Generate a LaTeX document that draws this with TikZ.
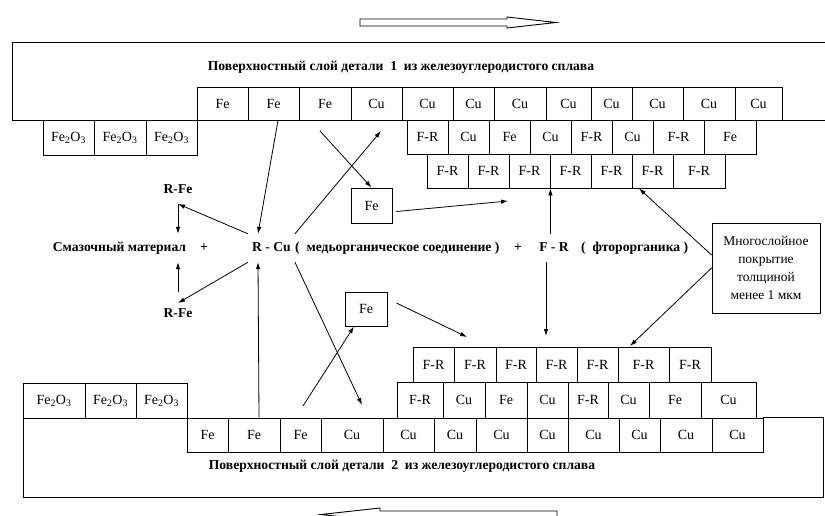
\documentclass[tikz,border=0pt]{standalone}
\usepackage{fontspec}
\setmainfont{Liberation Serif}
\usetikzlibrary{arrows.meta}
\newcommand\mycell[6]{\node[cell, minimum width={(#3-#2)*1pt}, minimum height={(#5-#4)*1pt}] (#1) at ({(#2+#3)/2},{(#4+#5)/2}) {#6};}
\begin{document}
\begin{tikzpicture}[x=1pt,y=-1pt,
  cell/.style={draw, line width=0.9pt, inner sep=0pt, font=\fontsize{14}{16}\selectfont},
  slab/.style={draw, line width=0.9pt},
  bold/.style={inner xsep=1pt, inner ysep=2pt, text height=9.5pt, text depth=3pt, font=\fontsize{13.6}{16}\selectfont\bfseries},
  hub/.style={bold, inner xsep=4pt, inner ysep=7.75pt},
  box/.style={draw, line width=0.9pt, inner sep=0pt, font=\fontsize{14}{16}\selectfont},
  arr/.style={line width=0.8pt, -{Latex[length=7pt,width=4.5pt]}},
  hollow/.style={draw, line width=0.9pt, fill=white}
]
\useasboundingbox (0,0) rectangle (825,515);
\fill[white] (0,0) rectangle (825,515);

% ---- direction arrows
\draw[hollow] (360,19) -- (507,19) -- (507,17) -- (556,22.5) -- (507,28) -- (507,26) -- (360,26) -- cycle;
\begin{scope}
\clip (0,0) rectangle (825,515);
\draw[hollow] (557,511) -- (380,511) -- (380,508) -- (321,514.5) -- (380,521) -- (380,518) -- (557,518) -- cycle;
\end{scope}

% ---- upper slab
\draw[slab] (825,42) -- (12,42) -- (12,120) -- (197,120);
\draw[slab] (782,120) -- (825,120);
\node[bold] (t1) at (401,67) {Поверхностный слой детали \ 1 \ из железоуглеродистого сплава};

\mycell{a1}{197}{248}{87}{120}{Fe}
\mycell{a2}{248}{299}{87}{120}{Fe}
\mycell{a3}{299}{351}{87}{120}{Fe}
\mycell{a4}{351}{402}{87}{120}{Cu}
\mycell{a5}{402}{453}{87}{120}{Cu}
\mycell{a6}{453}{494}{87}{120}{Cu}
\mycell{a7}{494}{546}{87}{120}{Cu}
\mycell{a8}{546}{591}{87}{120}{Cu}
\mycell{a9}{591}{632}{87}{120}{Cu}
\mycell{a10}{632}{683}{87}{120}{Cu}
\mycell{a11}{683}{735}{87}{120}{Cu}
\mycell{a12}{735}{782}{87}{120}{Cu}

\mycell{o1}{43}{94}{120}{155}{Fe\textsubscript{2}O\textsubscript{3}}
\mycell{o2}{94}{146}{120}{155}{Fe\textsubscript{2}O\textsubscript{3}}
\mycell{o3}{146}{197}{120}{155}{Fe\textsubscript{2}O\textsubscript{3}}

\mycell{b1}{407}{448}{120}{154}{F-R}
\mycell{b2}{448}{489}{120}{154}{Cu}
\mycell{b3}{489}{530}{120}{154}{Fe}
\mycell{b4}{530}{571}{120}{154}{Cu}
\mycell{b5}{571}{612}{120}{154}{F-R}
\mycell{b6}{612}{653}{120}{154}{Cu}
\mycell{b7}{653}{704}{120}{154}{F-R}
\mycell{b8}{704}{756}{120}{154}{Fe}

\mycell{c1}{427}{468}{154}{188}{F-R}
\mycell{c2}{468}{509}{154}{188}{F-R}
\mycell{c3}{509}{550}{154}{188}{F-R}
\mycell{c4}{550}{591}{154}{188}{F-R}
\mycell{c5}{591}{632}{154}{188}{F-R}
\mycell{c6}{632}{673}{154}{188}{F-R}
\mycell{c7}{673}{725}{154}{188}{F-R}

% ---- lower slab
\draw[slab] (23,383) -- (23,497) -- (823,497) -- (823,417) -- (763,417);
\node[bold] (t2) at (402,466) {Поверхностный слой детали \ 2 \ из железоуглеродистого сплава};

\mycell{u1}{23}{85}{383}{418}{Fe\textsubscript{2}O\textsubscript{3}}
\mycell{u2}{85}{136}{383}{418}{Fe\textsubscript{2}O\textsubscript{3}}
\mycell{u3}{136}{187}{383}{418}{Fe\textsubscript{2}O\textsubscript{3}}

\mycell{d1}{187}{228}{418}{452}{Fe}
\mycell{d2}{228}{280}{418}{452}{Fe}
\mycell{d3}{280}{321}{418}{452}{Fe}
\mycell{d4}{321}{383}{418}{452}{Cu}
\mycell{d5}{383}{434}{418}{452}{Cu}
\mycell{d6}{434}{476}{418}{452}{Cu}
\mycell{d7}{476}{527}{418}{452}{Cu}
\mycell{d8}{527}{568}{418}{452}{Cu}
\mycell{d9}{568}{619}{418}{452}{Cu}
\mycell{d10}{619}{660}{418}{452}{Cu}
\mycell{d11}{660}{712}{418}{452}{Cu}
\mycell{d12}{712}{763}{418}{452}{Cu}

\mycell{e1}{397}{443}{382}{418}{F-R}
\mycell{e2}{443}{485}{382}{418}{Cu}
\mycell{e3}{485}{527}{382}{418}{Fe}
\mycell{e4}{527}{568}{382}{418}{Cu}
\mycell{e5}{568}{608}{382}{418}{F-R}
\mycell{e6}{608}{649}{382}{418}{Cu}
\mycell{e7}{649}{701}{382}{418}{Fe}
\mycell{e8}{701}{756}{382}{418}{Cu}

\mycell{f1}{413}{454}{347}{382}{F-R}
\mycell{f2}{454}{496}{347}{382}{F-R}
\mycell{f3}{496}{536}{347}{382}{F-R}
\mycell{f4}{536}{577}{347}{382}{F-R}
\mycell{f5}{577}{618}{347}{382}{F-R}
\mycell{f6}{618}{669}{347}{382}{F-R}
\mycell{f7}{669}{711}{347}{382}{F-R}

% ---- middle texts
\node[bold, inner ysep=7.5pt] (rfe1) at (178,190) {R-Fe};
\node[bold, inner ysep=4.5pt] (rfe2) at (178,314) {R-Fe};
\node[bold, inner ysep=7.75pt] (smaz) at (119.5,248) {Смазочный материал};
\node[bold] (plus1) at (204,248) {+};
\node[hub, anchor=west] (rcu) at (248,248) {R - Cu};
\node[bold, anchor=west] (mo) at (294,248) {( \ медьорганическое соединение )};
\node[bold] (plus2) at (518,248) {+};
\node[hub] (fr) at (554,248) {F - R};
\node[bold, anchor=west] (fo) at (580,248) {( \ фторорганика )};

\node[box, minimum width=41pt, minimum height=35pt] (fe1) at (371.5,205.5) {Fe};
\node[box, minimum width=42pt, minimum height=34pt] (fe2) at (366,309) {Fe};
\node[box, minimum width=108pt, minimum height=90pt, align=center,
      font=\fontsize{13.5}{18}\selectfont] (note) at (766,268)
      {Многослойное\\покрытие\\толщиной\\менее 1 мкм};

% ---- free ends
\coordinate (p2) at (381,131);
\coordinate (p3) at (320,131);
\coordinate (p4) at (508,201);
\coordinate (p6) at (546,336);
\coordinate (p7) at (467,337);
\coordinate (p9) at (630,346);
\coordinate (p10) at (362,405);
\coordinate (p11) at (303,406);
\coordinate (q15) at (178,292);

% ---- connectors
\draw[arr] ([xshift=4.5pt]a2.south) -- ([xshift=10pt]rcu.north west);
\draw[arr] (rcu.north east) -- (p2);
\draw[arr] (p3) -- (fe1.north);
\draw[arr] ([xshift=4pt,yshift=-6pt]fe1.east) -- (p4);
\draw[arr] (c3.south east |- fr.north) -- (c3.south east);
\draw[arr] ([xshift=-8pt]fr.south) -- (p6);
\draw[arr] ([xshift=9pt,yshift=6pt]fe2.east) -- (p7);
\draw[arr] ([yshift=13pt]note.west) -- ([xshift=-13.5pt]c6.south);
\draw[arr] (note.west) -- (p9);
\draw[arr] (rcu.south east) -- (p10);
\draw[arr] (p11) -- ([xshift=-12pt]fe2.south);
\draw[arr] ([xshift=5pt]d2.north) -- ([xshift=10pt]rcu.south west);
\draw[arr] (rcu.north west) -- (rfe1.south);
\draw[arr] (rfe1.south) -- (rfe1.south |- smaz.north);
\draw[arr] (q15) -- (q15 |- smaz.south);
\draw[arr] (rcu.south west) -- (rfe2.north);
\end{tikzpicture}
\end{document}
